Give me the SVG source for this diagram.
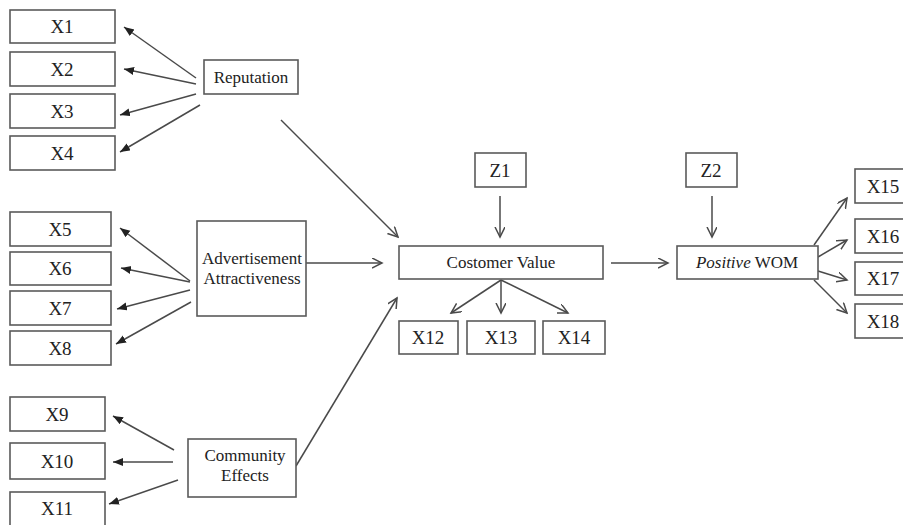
<svg xmlns="http://www.w3.org/2000/svg" width="903" height="525" viewBox="0 0 903 525">
<style>
.box{fill:#fff;stroke:#5a5a5a;stroke-width:1.6}
.t{font-family:"Liberation Serif","Times New Roman",serif;font-size:17px;fill:#222;text-anchor:middle}
.x{font-size:19px}
.c{stroke:#4a4a4a;stroke-width:1.5;fill:none}
.f{marker-end:url(#fa)}
.o{marker-end:url(#oa)}
</style>
<defs>
<marker id="fa" markerUnits="userSpaceOnUse" markerWidth="12" markerHeight="10" refX="10" refY="4" orient="auto">
<path d="M0,0 L10,4 L0,8 z" fill="#222"/>
</marker>
<marker id="oa" markerUnits="userSpaceOnUse" markerWidth="12" markerHeight="12" refX="10" refY="5" orient="auto">
<path d="M0,0 L10,5 L0,10" fill="none" stroke="#4a4a4a" stroke-width="1.5"/>
</marker>
</defs>
<rect width="903" height="525" fill="#fff"/>
<g id="connectors">
<line class="c f" x1="196" y1="78" x2="124" y2="27"/>
<line class="c f" x1="196" y1="84" x2="124" y2="69"/>
<line class="c f" x1="196" y1="94" x2="120" y2="115"/>
<line class="c f" x1="200" y1="105" x2="120" y2="152"/>
<line class="c o" x1="281" y1="120" x2="398" y2="237"/>
<line class="c f" x1="190" y1="281" x2="120" y2="228"/>
<line class="c f" x1="190" y1="282" x2="121" y2="268"/>
<line class="c f" x1="190" y1="290" x2="117" y2="309"/>
<line class="c f" x1="191" y1="302" x2="116" y2="344"/>
<line class="c o" x1="306" y1="263" x2="382" y2="263"/>
<line class="c f" x1="174" y1="450" x2="113" y2="416"/>
<line class="c f" x1="173" y1="462" x2="113" y2="462"/>
<line class="c f" x1="178" y1="480" x2="109" y2="504"/>
<line class="c o" x1="296" y1="466" x2="397" y2="298"/>
<line class="c o" x1="500" y1="196" x2="500" y2="237"/>
<line class="c o" x1="501" y1="280" x2="451" y2="313"/>
<line class="c o" x1="501" y1="280" x2="501" y2="313"/>
<line class="c o" x1="501" y1="280" x2="568" y2="313"/>
<line class="c o" x1="611" y1="263" x2="668" y2="263"/>
<line class="c o" x1="712" y1="196" x2="712" y2="237"/>
<line class="c o" x1="814" y1="245" x2="847" y2="198"/>
<line class="c o" x1="818" y1="257" x2="847" y2="240"/>
<line class="c o" x1="818" y1="271" x2="847" y2="280"/>
<line class="c o" x1="814" y1="280" x2="847" y2="313"/>
</g>
<g id="X1"><rect class="box" x="10" y="10" width="105" height="33"/><text class="t x" x="62" y="33">X1</text></g>
<g id="X2"><rect class="box" x="10" y="52" width="105" height="34"/><text class="t x" x="62" y="76">X2</text></g>
<g id="X3"><rect class="box" x="10" y="94" width="105" height="34"/><text class="t x" x="62" y="118">X3</text></g>
<g id="X4"><rect class="box" x="10" y="136" width="105" height="34"/><text class="t x" x="62" y="160">X4</text></g>
<g id="Reputation"><rect class="box" x="204" y="60" width="94" height="34"/><text class="t" x="251" y="83">Reputation</text></g>
<g id="X5"><rect class="box" x="10" y="212" width="101" height="34"/><text class="t x" x="60" y="236">X5</text></g>
<g id="X6"><rect class="box" x="10" y="252" width="101" height="33"/><text class="t x" x="60" y="275">X6</text></g>
<g id="X7"><rect class="box" x="10" y="291" width="101" height="34"/><text class="t x" x="60" y="315">X7</text></g>
<g id="X8"><rect class="box" x="10" y="331" width="101" height="34"/><text class="t x" x="60" y="355">X8</text></g>
<g id="Advertisement"><rect class="box" x="197" y="221" width="109" height="95"/><text class="t" x="252" y="264">Advertisement</text><text class="t" x="252" y="284">Attractiveness</text></g>
<g id="X9"><rect class="box" x="10" y="397" width="95" height="34"/><text class="t x" x="57" y="421">X9</text></g>
<g id="X10"><rect class="box" x="10" y="443" width="95" height="36"/><text class="t x" x="57" y="468">X10</text></g>
<g id="X11"><rect class="box" x="10" y="492" width="95" height="40"/><text class="t x" x="57" y="515">X11</text></g>
<g id="Community"><rect class="box" x="188" y="439" width="108" height="58"/><text class="t" x="245" y="461">Community</text><text class="t" x="245" y="481">Effects</text></g>
<g id="Z1"><rect class="box" x="475" y="153" width="51" height="34"/><text class="t x" x="500" y="177">Z1</text></g>
<g id="CV"><rect class="box" x="399" y="246" width="204" height="33"/><text class="t" x="501" y="268">Costomer Value</text></g>
<g id="X12"><rect class="box" x="399" y="321" width="59" height="33"/><text class="t x" x="428" y="344">X12</text></g>
<g id="X13"><rect class="box" x="467" y="321" width="68" height="33"/><text class="t x" x="501" y="344">X13</text></g>
<g id="X14"><rect class="box" x="543" y="321" width="62" height="33"/><text class="t x" x="574" y="344">X14</text></g>
<g id="Z2"><rect class="box" x="686" y="153" width="51" height="34"/><text class="t x" x="711" y="177">Z2</text></g>
<g id="WOM"><rect class="box" x="677" y="246" width="141" height="33"/><text class="t" x="747" y="268"><tspan font-style="italic">Positive</tspan> WOM</text></g>
<g id="X15"><rect class="box" x="855" y="169" width="55" height="34"/><text class="t x" x="883" y="193">X15</text></g>
<g id="X16"><rect class="box" x="855" y="219" width="55" height="34"/><text class="t x" x="883" y="243">X16</text></g>
<g id="X17"><rect class="box" x="855" y="262" width="55" height="33"/><text class="t x" x="883" y="285">X17</text></g>
<g id="X18"><rect class="box" x="855" y="304" width="55" height="34"/><text class="t x" x="883" y="328">X18</text></g>
</svg>
